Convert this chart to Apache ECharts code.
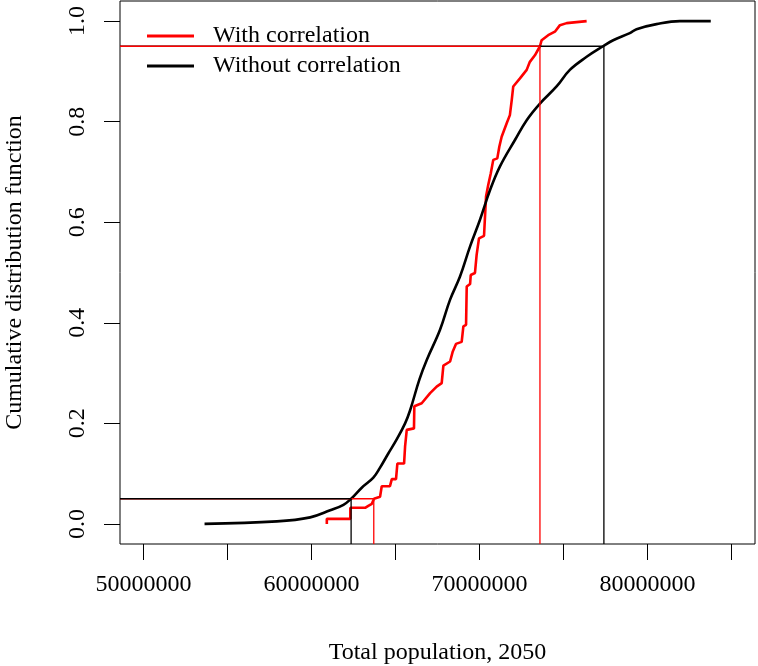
<!DOCTYPE html>
<html>
<head>
<meta charset="utf-8">
<script src="https://cdn.jsdelivr.net/npm/echarts@6/dist/echarts.min.js"></script>
<style>
html,body{margin:0;padding:0;background:#fff;}
#chart{width:758px;height:666px;}
</style>
</head>
<body>
<div id="chart"></div>
<script>
// ---- data (population in millions, CDF value) ----
const withCorrX = [60.91,60.91,62.31,62.31,63.19,63.38,63.59,63.72,64.08,64.18,64.67,64.78,65.03,65.11,65.51,65.57,65.67,65.76,66.10,66.12,66.56,67.06,67.45,67.75,67.85,68.25,68.41,68.60,68.94,69.04,69.20,69.24,69.44,69.48,69.73,69.83,69.97,70.27,70.39,70.52,70.67,70.82,71.06,71.18,71.32,71.62,71.81,71.92,72.01,72.41,72.81,73.00,73.30,73.60,73.70,74.09,74.49,74.79,75.19,75.78,76.38];
const withCorrY = [0,0.01,0.01,0.032,0.032,0.036,0.04,0.05,0.054,0.075,0.075,0.089,0.089,0.12,0.12,0.154,0.187,0.19,0.19,0.234,0.24,0.26,0.273,0.28,0.315,0.323,0.343,0.358,0.362,0.393,0.396,0.472,0.477,0.495,0.499,0.535,0.568,0.573,0.651,0.674,0.697,0.724,0.727,0.75,0.77,0.797,0.813,0.843,0.87,0.886,0.903,0.919,0.932,0.95,0.962,0.972,0.979,0.992,0.996,0.998,1.0];
const withoutCorrX = [53.63,57.94,59.92,61.11,61.90,62.36,62.99,63.68,64.08,64.57,65.07,65.57,65.87,66.42,66.86,67.65,68.25,68.84,69.44,70.03,70.63,71.22,72.12,72.81,73.60,74.59,75.38,76.38,77.36,77.96,78.95,79.35,80.54,81.93,83.77];
const withoutCorrY = [0,0.005,0.013,0.027,0.038,0.05,0.072,0.092,0.112,0.14,0.168,0.2,0.226,0.287,0.326,0.386,0.446,0.492,0.552,0.605,0.664,0.711,0.764,0.803,0.836,0.87,0.903,0.929,0.95,0.962,0.976,0.984,0.994,1.0,1.0];
// 5% and 95% quantiles (millions)
const withCorrQuantiles = [63.706, 73.60];
const withoutCorrQuantiles = [62.356, 77.407];
const quantileLevels = [0.05, 0.95];
// axis ticks and labels
const xTickValues = [50e6,55e6,60e6,65e6,70e6,75e6,80e6,85e6];
const xLabelValues = [50e6,60e6,70e6,80e6];
const yTickValues = [0,0.2,0.4,0.6,0.8,1.0];
const seriesNames = ['With correlation','Without correlation'];
const xTitle = 'Total population, 2050';
const yTitle = 'Cumulative distribution function';

const X_MIN = 48.596e6, X_MAX = 86.404e6, Y_MIN = -0.04, Y_MAX = 1.04;
const FONT = 'Liberation Serif';
const pairs = (xs, ys) => xs.map((x, i) => [x * 1e6, ys[i]]);
function quantileLine(q, level) {
  return [[X_MIN, level], [q * 1e6, level], [q * 1e6, Y_MIN]];
}
const lineSeries = (data, color, width, z) => ({
  type: 'line', data, symbol: 'none', silent: true, z,
  lineStyle: {color, width}, itemStyle: {color}
});

const chart = echarts.init(document.getElementById('chart'));
chart.setOption({
  animation: false,
  backgroundColor: '#fff',
  textStyle: {fontFamily: FONT},
  grid: {left: 120, right: 3, top: 1, bottom: 122, show: true, borderColor: '#000', borderWidth: 1, backgroundColor: 'transparent'},
  legend: {
    data: seriesNames, orient: 'vertical', left: 142, top: 19, itemWidth: 47, itemHeight: 3, itemGap: 6,
    icon: 'rect', textStyle: {fontFamily: FONT, fontSize: 24, color: '#000', lineHeight: 24, padding: [0,0,0,14]},
    selectedMode: false
  },
  xAxis: {
    type: 'value', min: X_MIN, max: X_MAX, position: 'bottom',
    splitLine: {show: false}, axisLine: {show: false, onZero: false},
    axisTick: {show: true, inside: false, customValues: xTickValues, length: 16, lineStyle: {color: '#000', width: 1}},
    axisLabel: {customValues: xLabelValues, color: '#000', fontSize: 24, fontFamily: FONT, margin: 29, formatter: v => String(Math.round(v))}
  },
  yAxis: {
    type: 'value', min: Y_MIN, max: Y_MAX, position: 'left',
    splitLine: {show: false}, axisLine: {show: false, onZero: false},
    axisTick: {show: true, inside: false, customValues: yTickValues, length: 16, lineStyle: {color: '#000', width: 1}},
    axisLabel: {customValues: yTickValues, color: '#000', fontSize: 24, fontFamily: FONT, rotate: 90, margin: 30, formatter: v => v.toFixed(1)}
  },
  graphic: [
    {type: 'text', x: 437.5, y: 653, style: {text: xTitle, font: '24px "Liberation Serif"', fill: '#000', textAlign: 'center', textVerticalAlign: 'middle'}},
    {type: 'text', x: 15, y: 272.5, rotation: Math.PI / 2, style: {text: yTitle, font: '24px "Liberation Serif"', fill: '#000', textAlign: 'center', textVerticalAlign: 'middle'}}
  ],
  series: [
    Object.assign(lineSeries(pairs(withCorrX, withCorrY), '#ff0000', 2.6, 2), {name: seriesNames[0]}),
    Object.assign(lineSeries(pairs(withoutCorrX, withoutCorrY), '#000000', 2.6, 2), {name: seriesNames[1], smooth: 0.4}),
    lineSeries(quantileLine(withCorrQuantiles[0], quantileLevels[0]), '#ff0000', 1.3, 3),
    lineSeries(quantileLine(withoutCorrQuantiles[0], quantileLevels[0]), '#000000', 1.3, 3),
    lineSeries(quantileLine(withoutCorrQuantiles[1], quantileLevels[1]), '#000000', 1.3, 3),
    lineSeries(quantileLine(withCorrQuantiles[1], quantileLevels[1]), '#ff0000', 1.3, 3)
  ]
});
</script>
</body>
</html>
